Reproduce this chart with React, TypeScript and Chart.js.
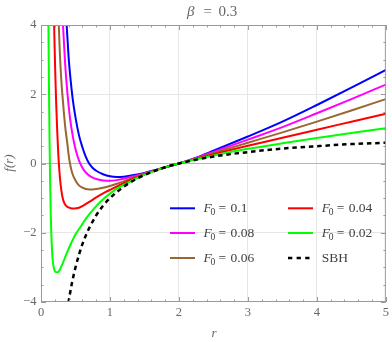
import React, { useEffect, useRef } from 'react';
import { Chart, registerables } from 'chart.js';

Chart.register(...registerables);

// ---- data ----
const rBlue = [0.35, 0.372, 0.40, 0.43, 0.46, 0.50, 0.55, 0.60, 0.65, 0.70, 0.75, 0.80, 0.90, 1.0, 1.1, 1.2, 1.35, 1.5, 1.75, 2.0, 2.25, 2.5, 3.0, 3.5, 4.0, 4.5, 5.0];
const fBlue = [4.8, 4.0, 3.08, 2.40, 1.86, 1.33, 0.82, 0.47, 0.19, -0.01, -0.13, -0.21, -0.31, -0.37, -0.39, -0.38, -0.335, -0.27, -0.14, 0, 0.17, 0.37, 0.78, 1.21, 1.69, 2.19, 2.70];

const rMagenta = [0.30, 0.32, 0.35, 0.38, 0.42, 0.46, 0.50, 0.55, 0.60, 0.65, 0.70, 0.75, 0.80, 0.90, 1.0, 1.1, 1.2, 1.35, 1.5, 1.75, 2.0, 2.25, 2.5, 3.0, 3.5, 4.0, 4.5, 5.0];
const fMagenta = [4.9, 3.95, 2.88, 2.10, 1.32, 0.80, 0.42, 0.09, -0.12, -0.26, -0.35, -0.41, -0.45, -0.49, -0.50, -0.48, -0.44, -0.365, -0.285, -0.14, 0, 0.16, 0.336, 0.69, 1.05, 1.45, 1.86, 2.28];

const rBrown = [0.24, 0.25, 0.265, 0.29, 0.32, 0.35, 0.38, 0.41, 0.45, 0.50, 0.55, 0.60, 0.65, 0.70, 0.75, 0.80, 0.90, 1.0, 1.1, 1.2, 1.35, 1.5, 1.75, 2.0, 2.25, 2.5, 3.0, 3.5, 4.0, 4.5, 5.0];
const fBrown = [5.3, 4.5, 3.6, 2.55, 1.75, 1.08, 0.60, 0.12, -0.26, -0.49, -0.63, -0.70, -0.735, -0.748, -0.748, -0.738, -0.70, -0.648, -0.585, -0.515, -0.40, -0.30, -0.14, 0, 0.147, 0.302, 0.60, 0.90, 1.21, 1.53, 1.86];

const rRed = [0.18, 0.19, 0.205, 0.22, 0.235, 0.25, 0.265, 0.285, 0.31, 0.34, 0.38, 0.43, 0.48, 0.55, 0.60, 0.70, 0.80, 0.94, 1.0, 1.13, 1.2, 1.35, 1.5, 1.75, 2.0, 2.25, 2.5, 3.0, 3.5, 4.0, 4.5, 5.0];
const fRed = [5.0, 4.0, 2.75, 1.75, 0.95, 0.30, -0.18, -0.62, -0.96, -1.15, -1.25, -1.29, -1.30, -1.28, -1.23, -1.11, -0.98, -0.82, -0.76, -0.635, -0.57, -0.42, -0.31, -0.14, 0, 0.135, 0.268, 0.513, 0.741, 0.976, 1.208, 1.44];

const rGreen = [0.100, 0.108, 0.115, 0.123, 0.132, 0.142, 0.155, 0.17, 0.19, 0.21, 0.24, 0.27, 0.30, 0.34, 0.38, 0.435, 0.50, 0.57, 0.65, 0.72, 0.80, 0.90, 1.0, 1.13, 1.2, 1.35, 1.5, 1.75, 2.0, 2.25, 2.5, 3.0, 3.5, 4.0, 4.5, 5.0];
const fGreen = [6.0, 4.0, 2.3, 0.8, -0.5, -1.5, -2.3, -2.8, -3.05, -3.13, -3.14, -3.08, -2.95, -2.76, -2.56, -2.31, -2.05, -1.84, -1.60, -1.42, -1.23, -1.03, -0.87, -0.69, -0.62, -0.46, -0.325, -0.14, 0, 0.123, 0.234, 0.423, 0.585, 0.738, 0.882, 1.02];

const rSBH = [0.38, 0.40, 0.42, 0.45, 0.50, 0.55, 0.60, 0.65, 0.70, 0.80, 0.90, 1.0, 1.2, 1.4, 1.6, 1.8, 2.0, 2.5, 3.0, 3.5, 4.0, 4.5, 5.0];
const fSBH = [-4.26, -4.0, -3.76, -3.44, -3.0, -2.64, -2.33, -2.08, -1.86, -1.5, -1.22, -1.0, -0.67, -0.43, -0.25, -0.11, 0, 0.2, 0.33, 0.43, 0.5, 0.56, 0.6];

const f0Labels = ['0.1', '0.08', '0.06', '0.04', '0.02'];
const sbhLabel = 'SBH';
const titleText = ['β', '=', '0.3'];
const xTitle = 'r';
const yTitle = 'f(r)';
const xTickValues = [0, 1, 2, 3, 4, 5];
const yTickValues = [-4, -2, 0, 2, 4];

// ---- styles ----
const FONT = '"Liberation Serif", "Times New Roman", serif';
const FRAME = '#9a9a9a';
const LABEL = '#666666';
const GRID = '#e6e6e6';
const AXIS0 = '#b4b4b4';
const COLORS = ['#0000ff', '#ff00ff', '#996633', '#ff0000', '#00ff00'];

const toPts = (rs: number[], fs: number[]) => rs.map((r, i) => ({ x: r, y: fs[i] }));

const mmaPlugin = {
  id: 'mmaDecor',
  afterDraw(chart: any) {
    const ctx: CanvasRenderingContext2D = chart.ctx;
    const a = chart.chartArea;
    const xs = chart.scales.x;
    const ys = chart.scales.y;
    ctx.save();
    // frame
    ctx.strokeStyle = FRAME;
    ctx.lineWidth = 1;
    ctx.setLineDash([]);
    ctx.strokeRect(a.left + 0.5, a.top + 0.5, a.right - a.left - 1, a.bottom - a.top - 1);
    // ticks (inward, all four sides)
    ctx.beginPath();
    for (let i = 0; i <= 25; i++) {
      const v = i * 0.2;
      const major = i % 5 === 0;
      const len = major ? 5 : 2.5;
      const px = Math.round(xs.getPixelForValue(v)) + 0.5;
      ctx.moveTo(px, a.bottom);
      ctx.lineTo(px, a.bottom - len);
      ctx.moveTo(px, a.top);
      ctx.lineTo(px, a.top + len);
    }
    for (let i = 0; i <= 16; i++) {
      const v = -4 + i * 0.5;
      const major = i % 4 === 0;
      const len = major ? 5 : 2.5;
      const py = Math.round(ys.getPixelForValue(v)) + 0.5;
      ctx.moveTo(a.left, py);
      ctx.lineTo(a.left + len, py);
      ctx.moveTo(a.right, py);
      ctx.lineTo(a.right - len, py);
    }
    ctx.stroke();

    // title
    ctx.fillStyle = LABEL;
    ctx.textBaseline = 'alphabetic';
    ctx.textAlign = 'left';
    ctx.font = `italic 15px ${FONT}`;
    ctx.fillText(titleText[0], 187, 15.5);
    ctx.font = `15px ${FONT}`;
    ctx.fillText(titleText[1], 203.5, 15.5);
    ctx.fillText(titleText[2], 218.5, 15.5);

    // axis titles
    ctx.font = `italic 13px ${FONT}`;
    ctx.textAlign = 'center';
    ctx.fillText(xTitle, 214, 337);
    ctx.save();
    ctx.translate(13, 163);
    ctx.rotate(-Math.PI / 2);
    ctx.fillText(yTitle, 0, 0);
    ctx.restore();

    // legend
    const rowsY = [208.3, 233, 258];
    const colLine = [170, 288];
    const colText = [203.5, 321.7];
    const entries = [
      { c: 0, r: 0, color: COLORS[0], val: f0Labels[0] },
      { c: 0, r: 1, color: COLORS[1], val: f0Labels[1] },
      { c: 0, r: 2, color: COLORS[2], val: f0Labels[2] },
      { c: 1, r: 0, color: COLORS[3], val: f0Labels[3] },
      { c: 1, r: 1, color: COLORS[4], val: f0Labels[4] },
    ];
    ctx.textAlign = 'left';
    for (const e of entries) {
      const y = rowsY[e.r];
      ctx.strokeStyle = e.color;
      ctx.lineWidth = 2;
      ctx.beginPath();
      ctx.moveTo(colLine[e.c], y);
      ctx.lineTo(colLine[e.c] + 25, y);
      ctx.stroke();
      const x0 = colText[e.c];
      const base = y + 4;
      ctx.fillStyle = '#404040';
      ctx.font = `italic 13.5px ${FONT}`;
      ctx.fillText('F', x0, base);
      ctx.font = `9.5px ${FONT}`;
      ctx.fillText('0', x0 + 7, base + 3);
      ctx.font = `13.5px ${FONT}`;
      ctx.fillText('=', x0 + 15, base);
      ctx.fillText(e.val, x0 + 27, base);
    }
    // SBH entry
    {
      const y = rowsY[2];
      ctx.strokeStyle = '#000000';
      ctx.lineWidth = 2.5;
      ctx.setLineDash([4.3, 4.3]);
      ctx.beginPath();
      ctx.moveTo(colLine[1], y);
      ctx.lineTo(colLine[1] + 22, y);
      ctx.stroke();
      ctx.setLineDash([]);
      ctx.fillStyle = '#404040';
      ctx.font = `13.5px ${FONT}`;
      ctx.fillText(sbhLabel, colText[1], y + 4);
    }
    ctx.restore();
  },
};

export default function App() {
  const ref = useRef<HTMLCanvasElement | null>(null);
  useEffect(() => {
    if (!ref.current) return;
    const solid = (label: string, rs: number[], fs: number[], color: string, order: number) => ({
      label,
      data: toPts(rs, fs),
      borderColor: color,
      backgroundColor: color,
      borderWidth: 2,
      pointRadius: 0,
      fill: false,
      cubicInterpolationMode: 'monotone' as const,
      order,
    });
    const chart = new Chart(ref.current, {
      type: 'line',
      data: {
        datasets: [
          solid('F0 = ' + f0Labels[0], rBlue, fBlue, COLORS[0], 6),
          solid('F0 = ' + f0Labels[1], rMagenta, fMagenta, COLORS[1], 5),
          solid('F0 = ' + f0Labels[2], rBrown, fBrown, COLORS[2], 4),
          solid('F0 = ' + f0Labels[3], rRed, fRed, COLORS[3], 3),
          solid('F0 = ' + f0Labels[4], rGreen, fGreen, COLORS[4], 2),
          {
            label: sbhLabel,
            data: toPts(rSBH, fSBH),
            borderColor: '#000000',
            borderWidth: 2.5,
            borderDash: [4.5, 3.8],
            pointRadius: 0,
            fill: false,
            cubicInterpolationMode: 'monotone' as const,
            order: 1,
          },
        ],
      },
      options: {
        animation: false,
        responsive: false,
        maintainAspectRatio: false,
        layout: { padding: { top: 25, right: 4, left: 0, bottom: 0 } },
        plugins: {
          legend: { display: false },
          title: { display: false },
          tooltip: { enabled: false },
        },
        scales: {
          x: {
            type: 'linear',
            min: 0,
            max: 5,
            afterFit: (s: any) => { s.height = 40; },
            afterBuildTicks: (s: any) => { s.ticks = xTickValues.map((v) => ({ value: v })); },
            ticks: {
              color: LABEL,
              font: { family: FONT, size: 12.5 },
              padding: 3,
              maxRotation: 0,
              autoSkip: false,
              callback: (v: any) => String(v),
            },
            grid: {
              drawTicks: false,
              color: (c: any) => (c.tick && (c.tick.value === 0 || c.tick.value === 5) ? 'rgba(0,0,0,0)' : GRID),
              lineWidth: 1,
            },
            border: { display: false },
          },
          y: {
            type: 'linear',
            min: -4,
            max: 4,
            afterFit: (s: any) => { s.width = 41; },
            afterBuildTicks: (s: any) => { s.ticks = yTickValues.map((v) => ({ value: v })); },
            ticks: {
              color: LABEL,
              font: { family: FONT, size: 12.5 },
              padding: 4.5,
              autoSkip: false,
              callback: (v: any) => (v < 0 ? '\u2212' + Math.abs(v) : String(v)),
            },
            grid: {
              drawTicks: false,
              color: (c: any) => {
                const v = c.tick ? c.tick.value : null;
                if (v === 0) return AXIS0;
                if (v === 4 || v === -4) return 'rgba(0,0,0,0)';
                return GRID;
              },
              lineWidth: 1,
            },
            border: { display: false },
          },
        },
      },
      plugins: [mmaPlugin],
    });
    return () => chart.destroy();
  }, []);
  return (
    <div style={{ position: 'fixed', left: 0, top: 0, width: 392, height: 342, background: '#ffffff' }}>
      <canvas ref={ref} width={392} height={342} style={{ display: 'block', width: 392, height: 342 }} />
    </div>
  );
}
